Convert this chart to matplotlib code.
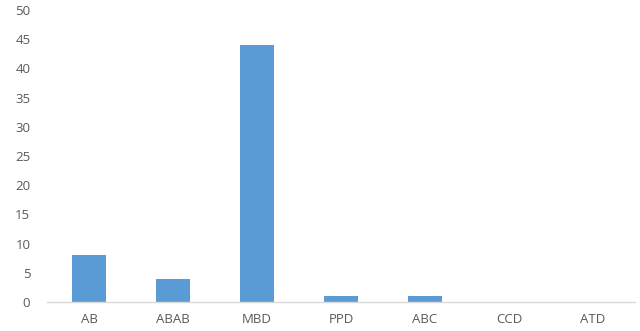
import matplotlib
matplotlib.use('Agg')
import matplotlib.pyplot as plt
import numpy as np

# Counts per design type
categories = ['AB', 'ABAB', 'MBD', 'PPD', 'ABC', 'CCD', 'ATD']
counts = [8, 4, 44, 1, 1, 0, 0]
y_ticks = [0, 5, 10, 15, 20, 25, 30, 35, 40, 45, 50]

plt.rcParams['font.family'] = ['Open Sans', 'DejaVu Sans']

fig = plt.figure(figsize=(6.4, 3.31), dpi=100)
ax = fig.add_axes([47 / 640, 29 / 331, 588 / 640, 292 / 331])

x = np.arange(len(categories))
ax.bar(x, counts, width=0.4, color='#5B9BD5', zorder=2)

ax.set_xlim(-0.5, len(categories) - 0.5)
ax.set_ylim(0, 50)
ax.set_xticks(x)
ax.set_xticklabels(categories)
ax.set_yticks(y_ticks)

for side in ['top', 'right', 'left']:
    ax.spines[side].set_visible(False)
ax.spines['bottom'].set_color('#D9D9D9')
ax.spines['bottom'].set_linewidth(1)

ax.tick_params(axis='both', length=0, labelsize=9.5, colors='#595959')
ax.tick_params(axis='y', pad=12)
ax.tick_params(axis='x', pad=8)

plt.savefig('out.png', dpi=100)
